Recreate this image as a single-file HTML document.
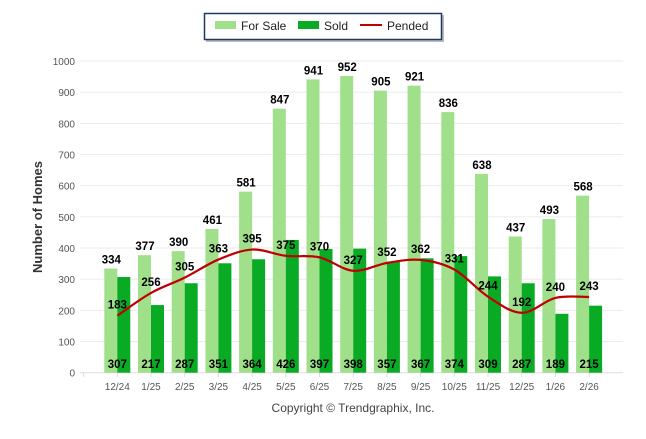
<!DOCTYPE html>
<html><head><meta charset="utf-8"><style>
body{margin:0;background:#fff;}
svg text{font-family:"Liberation Sans",Arial,sans-serif;}
</style></head><body>
<svg id="chart" width="646" height="434" xmlns="http://www.w3.org/2000/svg">
<g>
<rect x="206" y="15" width="238" height="27" fill="#bbb"/>
<rect x="204.5" y="13.5" width="237" height="26" fill="#fff" stroke="#1f3864" stroke-width="1.5"/>
<rect x="215" y="21" width="21" height="8" fill="#a0e08a"/>
<text x="241" y="30" font-size="12" fill="#222">For Sale</text>
<rect x="298" y="21" width="21" height="8" fill="#0aab24"/>
<text x="324" y="30" font-size="12" fill="#222">Sold</text>
<line x1="360" y1="25" x2="382" y2="25" stroke="#c00000" stroke-width="2"/>
<text x="387" y="30" font-size="12" fill="#222">Pended</text>
</g>
<text transform="translate(42,217) rotate(-90)" text-anchor="middle" font-size="13" font-weight="bold" fill="#333">Number of Homes</text>
<text x="353" y="412" text-anchor="middle" font-size="12" fill="#444">Copyright © Trendgraphix, Inc.</text>
<g id="grid"></g><g id="bars"></g><g id="line"></g><g id="labels"></g>
</svg>
<script>
const categories=["12/24","1/25","2/25","3/25","4/25","5/25","6/25","7/25","8/25","9/25","10/25","11/25","12/25","1/26","2/26"];
const forSale=[334,377,390,461,581,847,941,952,905,921,836,638,437,493,568];
const sold=[307,217,287,351,364,426,397,398,357,367,374,309,287,189,215];
const pended=[183,256,305,363,395,375,370,327,352,362,331,244,192,240,243];
const yTicks=[0,100,200,300,400,500,600,700,800,900,1000];
const NS="http://www.w3.org/2000/svg";
const y=v=>372.7-v*0.3117;
const x=i=>117.3+i*33.7;
function mk(tag,attrs,parent,txt){const e=document.createElementNS(NS,tag);for(const k in attrs)e.setAttribute(k,attrs[k]);if(txt!==undefined)e.textContent=txt;document.getElementById(parent).appendChild(e);return e;}
yTicks.forEach(t=>{
 const l=mk('line',{x1:80,x2:623,y1:y(t),y2:y(t),stroke:t===0?'#ddd':'#ebebeb','stroke-width':1},'grid');
 
 
 const tx=mk('text',{x:75,y:y(t)+4,'text-anchor':'end','font-size':10,fill:'#555'},'grid',t);
 
 
});
for(let i=0;i<=categories.length;i++){
 const tk=mk('line',{x1:x(i)-33.7,x2:x(i)-33.7,y1:373,y2:377,stroke:'#ddd'},'grid');
 
 
}
categories.forEach((c,i)=>{
 const t=mk('text',{x:x(i),y:390,'text-anchor':'middle','font-size':10,fill:'#555'},'labels',c);
 
 
 const b1=mk('rect',{x:x(i)-13,y:y(forSale[i]),width:13,height:y(0)-y(forSale[i]),fill:'#a0e08a'},'bars');
 
 
 const b2=mk('rect',{x:x(i),y:y(sold[i]),width:13,height:y(0)-y(sold[i]),fill:'#0aab24'},'bars');
 
 
 const l1=mk('text',{x:x(i)-6,y:y(forSale[i])-5,'text-anchor':'middle','font-size':11.5,'font-weight':'bold',fill:'#000'},'labels',forSale[i]);
 
 
 const l2=mk('text',{x:x(i),y:368,'text-anchor':'middle','font-size':11.5,'font-weight':'bold',fill:'#000'},'labels',sold[i]);
 
 
 const l3=mk('text',{x:x(i),y:y(pended[i])-7,'text-anchor':'middle','font-size':11.5,'font-weight':'bold',fill:'#000'},'labels',pended[i]);
 
 
});
const P=pended.map((v,i)=>[x(i),y(v)]);
let d='M'+P[0][0]+','+P[0][1];
for(let i=0;i<P.length-1;i++){
 const p0=P[i-1]||P[i],p1=P[i],p2=P[i+1],p3=P[i+2]||P[i+1];
 const c1=[p1[0]+(p2[0]-p0[0])/6,p1[1]+(p2[1]-p0[1])/6];
 const c2=[p2[0]-(p3[0]-p1[0])/6,p2[1]-(p3[1]-p1[1])/6];
 d+=` C${c1[0]},${c1[1]} ${c2[0]},${c2[1]} ${p2[0]},${p2[1]}`;
}
const path=mk('path',{d:d,fill:'none',stroke:'#c00000','stroke-width':2.2},'line');


</script>
</body></html>
